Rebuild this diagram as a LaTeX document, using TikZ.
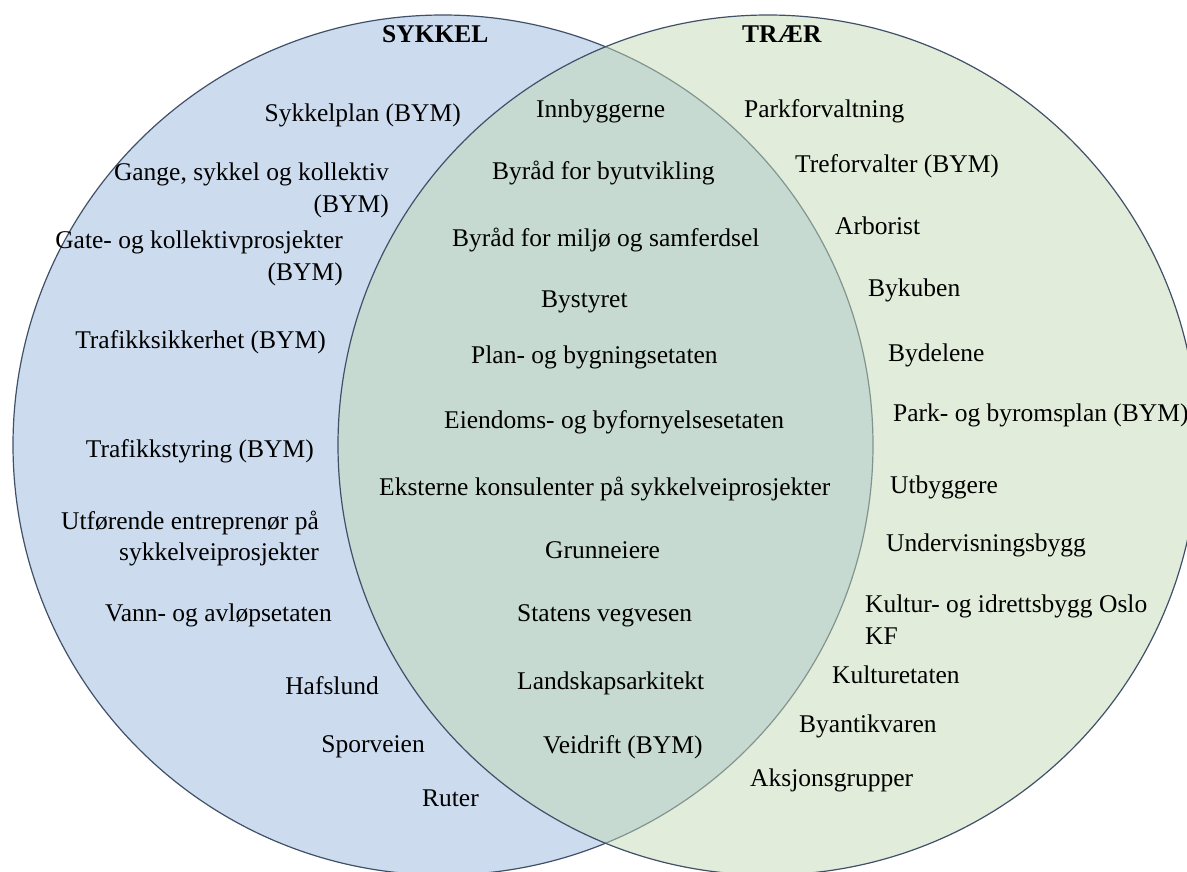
\documentclass[tikz,border=0pt]{standalone}
\usepackage{fontspec}
\setmainfont{Liberation Serif}
\definecolor{sykkelfill}{RGB}{204,220,238}
\definecolor{traerfill}{RGB}{195,217,181}
\definecolor{rimcol}{RGB}{64,80,104}
\begin{document}
\begin{tikzpicture}[x=1pt,y=-1pt,
  every node/.style={inner sep=0pt,font=\fontsize{25.5}{32}\selectfont},
  rim/.style={draw=rimcol,line width=1.2pt},
  lbl/.style={anchor=base east},
  mid/.style={anchor=base west},
  rgt/.style={anchor=base west},
  head/.style={anchor=base west,font=\fontsize{25.5}{32}\selectfont\bfseries}]
\useasboundingbox (0,0) rectangle (1187,871);
\clip (0,0) rectangle (1187,871);
% the two sets
\fill[sykkelfill] (443,445) circle (430pt);
\draw[rim] (443,445) circle (430pt);
\fill[traerfill,opacity=0.5] (768,445) circle (430pt);
\draw[rim] (768,445) circle (430pt);
% headings
\node[head] (sykkel) at (382,42) {SYKKEL};
\node[head] (traer) at (742,42) {TRÆR};
% bicycle only
\node[lbl] (sykkelplan) at (461,121) {Sykkelplan (BYM)};
\node[lbl] (gangeA) at (389,180) {Gange, sykkel og kollektiv};
\node[lbl] (gangeB) at (389,212) {(BYM)};
\node[lbl] (gateA) at (343,248) {Gate- og kollektivprosjekter};
\node[lbl] (gateB) at (343,280) {(BYM)};
\node[lbl] (trafsik) at (326,348) {Trafikksikkerhet (BYM)};
\node[lbl] (trafsty) at (314,457) {Trafikkstyring (BYM)};
\node[lbl] (utfA) at (319,529) {Utførende entreprenør på};
\node[lbl] (utfB) at (319,560) {sykkelveiprosjekter};
\node[lbl] (vann) at (332,621) {Vann- og avløpsetaten};
\node[lbl] (hafslund) at (379,694) {Hafslund};
\node[lbl] (sporveien) at (425,752) {Sporveien};
\node[lbl] (ruter) at (479,806) {Ruter};
% shared
\node[mid] (innb) at (536,117) {Innbyggerne};
\node[mid] (byutv) at (492,179) {Byråd for byutvikling};
\node[mid] (miljo) at (452,246) {Byråd for miljø og samferdsel};
\node[mid] (bystyret) at (541,307) {Bystyret};
\node[mid] (plan) at (471,363) {Plan- og bygningsetaten};
\node[mid] (eiend) at (444,428) {Eiendoms- og byfornyelsesetaten};
\node[mid] (eksterne) at (379,495) {Eksterne konsulenter på sykkelveiprosjekter};
\node[mid] (grunn) at (545,558) {Grunneiere};
\node[mid] (statens) at (517,621) {Statens vegvesen};
\node[mid] (landsk) at (517,689) {Landskapsarkitekt};
\node[mid] (veidrift) at (543,753) {Veidrift (BYM)};
% trees only
\node[rgt] (parkforv) at (744,117) {Parkforvaltning};
\node[rgt] (trefv) at (795,172) {Treforvalter (BYM)};
\node[rgt] (arborist) at (835,234) {Arborist};
\node[rgt] (bykuben) at (868,296) {Bykuben};
\node[rgt] (bydelene) at (888,361) {Bydelene};
\node[rgt] (parkbyrom) at (893,421) {Park- og byromsplan (BYM)};
\node[rgt] (utbyggere) at (890,493) {Utbyggere};
\node[rgt] (underv) at (886,551) {Undervisningsbygg};
\node[rgt] (kulturA) at (865,612) {Kultur- og idrettsbygg Oslo};
\node[rgt] (kulturB) at (865,644) {KF};
\node[rgt] (kulturetaten) at (832,683) {Kulturetaten};
\node[rgt] (byantikv) at (799,732) {Byantikvaren};
\node[rgt] (aksjon) at (750,786) {Aksjonsgrupper};
\end{tikzpicture}
\end{document}
